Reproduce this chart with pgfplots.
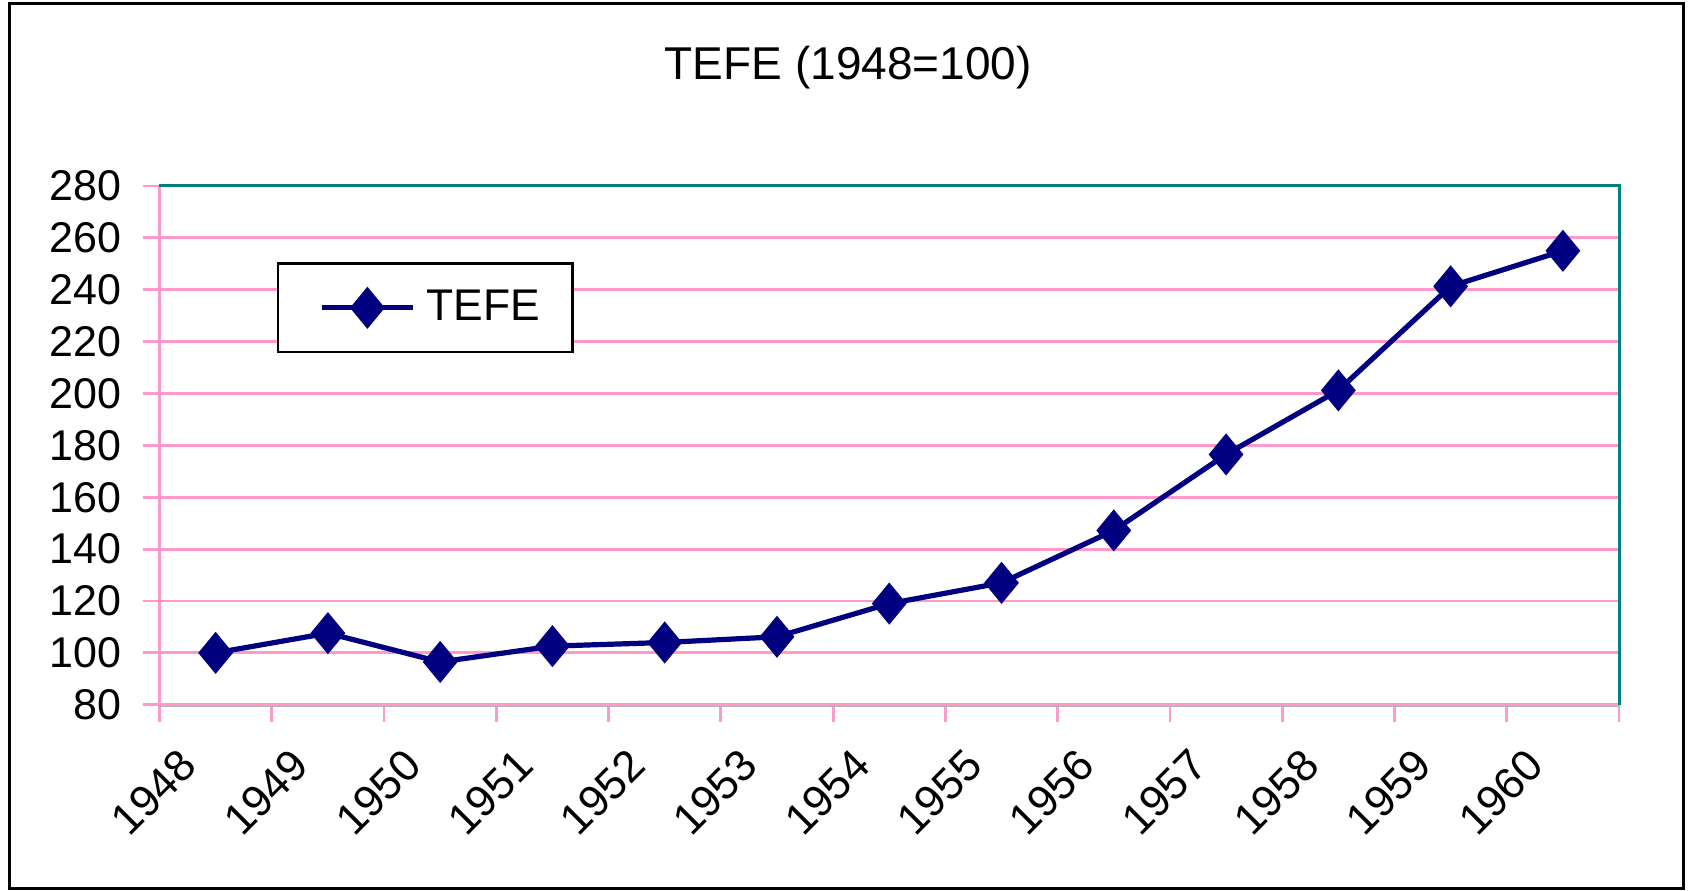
\documentclass[border=0pt]{standalone}
\usepackage{fontspec}
\setmainfont{Liberation Sans}
\usepackage{pgfplots}
\usepackage{pgfplotstable}
\pgfplotsset{compat=1.18}
\definecolor{navy}{HTML}{000080}
\definecolor{gridpink}{HTML}{FF99CC}
\definecolor{tealc}{HTML}{008080}

\pgfplotstableread{
x year val
0 1948 100
1 1949 107.6
2 1950 96.5
3 1951 102.6
4 1952 104
5 1953 106.2
6 1954 119
7 1955 127
8 1956 147.2
9 1957 176.5
10 1958 201.2
11 1959 241.3
12 1960 255
}\datatable

\begin{document}
\begin{tikzpicture}
\begin{axis}[
  scale only axis,
  width=364.9bp, height=129.7bp,
  xmin=-0.5, xmax=12.5,
  ymin=80, ymax=280,
  ytick={80,100,...,280},
  xtick={0,...,12},
  xticklabels={1948,1949,1950,1951,1952,1953,1954,1955,1956,1957,1958,1959,1960},
  tick pos=left,
  tick align=outside,
  major tick length=4.2bp,
  major x tick style={draw=none},
  major y tick style={draw=gridpink, line width=0.7bp},
  extra x ticks={-0.5,0.5,...,12.5},
  extra x tick labels={},
  extra x tick style={grid=none, major x tick style={draw=gridpink, line width=0.7bp}},
  ymajorgrids,
  major grid style={draw=gridpink, line width=0.7bp},
  axis line style={draw=none},
  /pgf/number format/assume math mode=true,
  yticklabel style={font=\fontsize{10.75bp}{12bp}\selectfont, anchor=east, inner sep=0pt, xshift=-5.2bp},
  xticklabel style={font=\fontsize{11bp}{12bp}\selectfont, inner sep=0pt, xshift=-9.6bp, yshift=-6bp, rotate=45, anchor=north east},
  legend style={at={(0.0803,0.853)}, anchor=north west, draw=black, line width=0.65bp, fill=white,
    inner xsep=8bp, inner ysep=6.5bp, font=\fontsize{11.1bp}{13bp}\selectfont,
    nodes={inner sep=0pt}},
  legend image code/.code={%
    \path[draw=none, fill=none] (-3bp,0) -- (26.2bp,0);
    \draw[#1, line width=1.3bp] (0bp,0) -- (22.7bp,0);
    \draw[#1, line width=1.3bp] plot coordinates {(11.35bp,0)};
  },
  clip=false,
]
\addplot[navy, line width=1.3bp, mark=diamond*, mark size=4.25bp,
  mark options={fill=navy, draw=none, xscale=1.1}]
  table[x=x, y=val] {\datatable};
\addlegendentry{TEFE}
\draw[gridpink, line width=0.7bp] (rel axis cs:0,0) -- (rel axis cs:0,1);
\draw[gray!60, line width=0.4bp] ([yshift=-0.4bp]rel axis cs:0,0) -- ([yshift=-0.4bp]rel axis cs:1,0);
\draw[gridpink, line width=0.7bp] (rel axis cs:0,0) -- (rel axis cs:1,0);
\draw[tealc, line width=0.75bp] (rel axis cs:0,1) -- (rel axis cs:1,1) -- (rel axis cs:1,0);
\end{axis}
\node[anchor=base, inner sep=0pt, font=\fontsize{11.5bp}{14bp}\selectfont]
  at ([shift={(172.2bp,26.7bp)}]current axis.north west) {TEFE (1948=100)};
\draw[black, line width=0.75bp] ([shift={(-37.6bp,-46bp)}]current axis.south west)
  rectangle ([shift={(16.1bp,45.7bp)}]current axis.north east);
\pgfresetboundingbox
\path[use as bounding box] ([shift={(-39.875bp,-46.325bp)}]current axis.south west)
  rectangle ([shift={(17.25bp,46.5bp)}]current axis.north east);
\end{tikzpicture}
\end{document}
